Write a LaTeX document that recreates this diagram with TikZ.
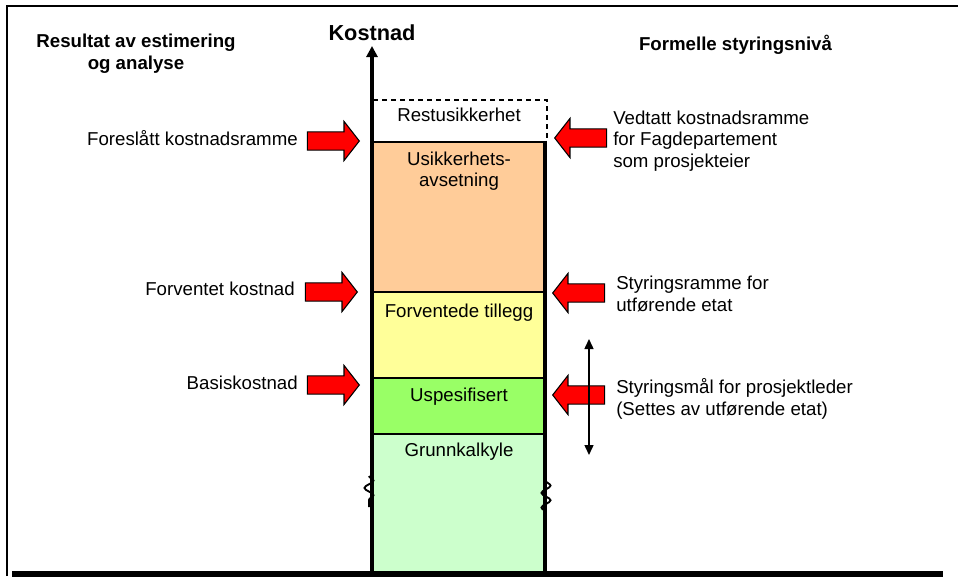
\documentclass[tikz,border=0pt]{standalone}
\usepackage{fontspec}
\setmainfont{Liberation Sans}
\usetikzlibrary{shapes.arrows,arrows.meta,decorations.pathmorphing}
\definecolor{cOrange}{HTML}{FFCC99}
\definecolor{cYellow}{HTML}{FFFF99}
\definecolor{cGreen}{HTML}{99FF66}
\definecolor{cLight}{HTML}{CCFFCC}
\tikzset{
  lbl/.style={inner sep=0pt, font=\fontsize{14}{16.2}\selectfont, align=left},
  lblc/.style={inner sep=0pt, font=\fontsize{14}{16.2}\selectfont, align=center},
  head/.style={inner sep=0pt, font=\bfseries\fontsize{14}{16.5}\selectfont, align=center},
  blockarrow/.style={single arrow, draw=black, line width=0.8pt, fill=red,
     minimum height=39pt, minimum width=28.5pt, inner sep=0pt, inner ysep=6.4pt,
     single arrow head extend=7.9pt, single arrow tip angle=104},
  seg/.style={line width=2.2pt},
  breakmark/.style={line width=1.4pt, decorate, decoration={snake, amplitude=3.4pt, segment length=11pt}},
}
\begin{document}
\begin{tikzpicture}[x=0.75pt,y=-0.75pt]
\useasboundingbox (0,0) rectangle (958,578);
% frame
\draw[line width=2.2pt] (7,576) -- (7,6) -- (958,6);
% fills
\fill[cOrange] (372,142) rectangle (545,292);
\fill[cYellow] (372,292) rectangle (545,378);
\fill[cGreen] (372,378) rectangle (545,434);
\fill[cLight] (372,434) rectangle (545,572);
% dashed restusikkerhet box
\draw[line width=0.8pt, dash pattern=on 3.75pt off 3pt] (373,100) -- (547,100) -- (547,142);
% dividers and right edge
\draw[seg] (372,142) -- (545,142);
\draw[seg] (372,292) -- (545,292);
\draw[seg] (372,378) -- (545,378);
\draw[seg] (372,434) -- (545,434);
\draw[line width=3pt] (545,140.5) -- (545,574);
% bottom line
\draw[line width=4.5pt] (12,574) -- (943,574);
% axis
\coordinate (axB) at (372,576);
\coordinate (axT) at (372,46);
\draw[line width=3pt, -{Triangle[length=8.25pt,width=8.25pt]}] (axB) -- (axT);
\node[head, font=\bfseries\fontsize{16.3}{18}\selectfont] (kost) at (372,33) {Kostnad};
% break marks
\draw[breakmark] (369,476) -- (369,507);
\draw[breakmark] (546,481) -- (546,514);
% headings
\node[head] (hL) at (136,54) {Resultat av estimering\\og analyse};
\node[head] (hR) at (735.5,45) {Formelle styringsnivå};
% segment texts
\node[lblc] (tRest) at (459,115) {Restusikkerhet};
\node[lblc] (tUsik) at (459,171) {Usikkerhets-\\avsetning};
\node[lblc] (tForv) at (459,313) {Forventede tillegg};
\node[lblc] (tUsp) at (459,397) {Uspesifisert};
\node[lblc] (tGrunn) at (459,452) {Grunnkalkyle};
% left arrows
\node[blockarrow, anchor=tip] (aL1) at (360,141) {};
\node[blockarrow, anchor=tip] (aL2) at (358,292) {};
\node[blockarrow, anchor=tip] (aL3) at (360,385) {};
\node[lbl, anchor=east] (tL1) at (298,138) {Foreslått kostnadsramme};
\node[lbl, anchor=east] (tL2) at (295,289) {Forventet kostnad};
\node[lbl, anchor=east] (tL3) at (298,383) {Basiskostnad};
% right arrows
\node[blockarrow, shape border rotate=180, anchor=tip] (aR1) at (554,138) {};
\node[blockarrow, shape border rotate=180, anchor=tip] (aR2) at (552,293) {};
\node[blockarrow, shape border rotate=180, anchor=tip] (aR3) at (552,395) {};
\node[lbl, anchor=west] (tR1) at (613,141) {Vedtatt kostnadsramme\\for Fagdepartement\\som prosjekteier};
\node[lbl, anchor=west] (tR2) at (616,294) {Styringsramme for\\utførende etat};
\node[lbl, anchor=west] (tR3) at (616,399) {Styringsmål for prosjektleder\\(Settes av utførende etat)};
% double arrow
\coordinate (dT) at (589,339);
\coordinate (dB) at (589,455);
\draw[line width=1.1pt, {Triangle[length=7.5pt,width=6.75pt]}-{Triangle[length=7.5pt,width=6.75pt]}] (dT) -- (dB);
\end{tikzpicture}
\end{document}
